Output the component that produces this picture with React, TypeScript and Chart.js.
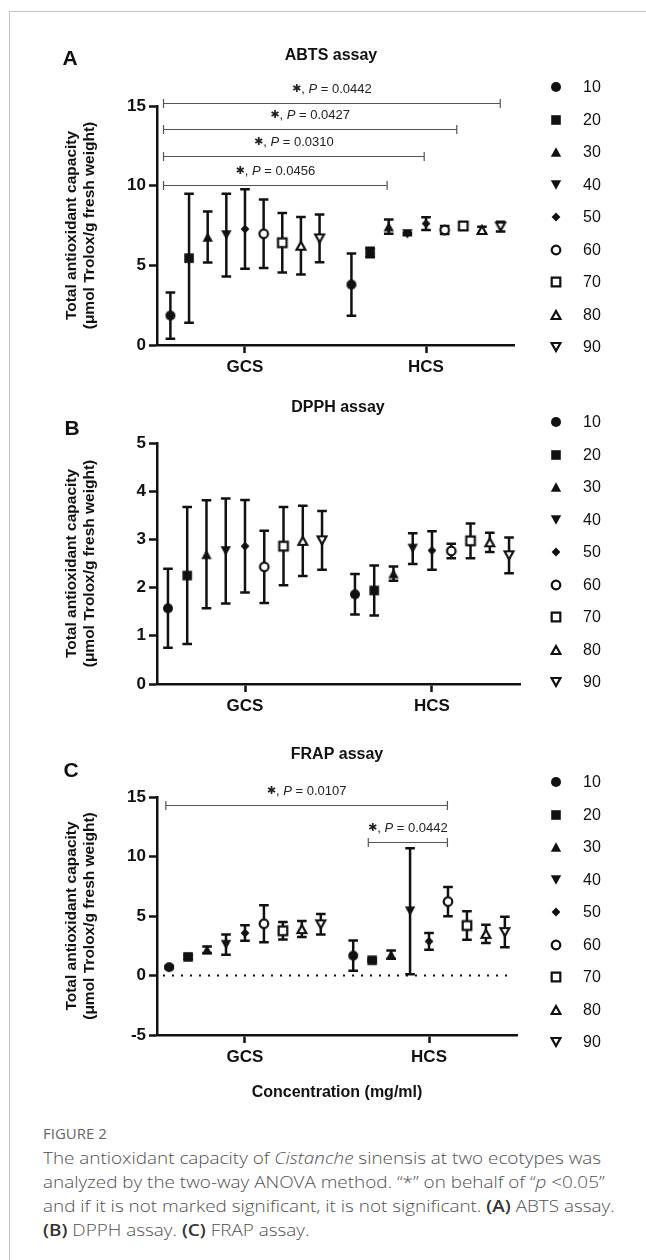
import React, { useEffect, useRef } from 'react';
import { Chart, registerables } from 'chart.js';

Chart.register(...registerables);

// ---------- data ----------
const groups = ['GCS', 'HCS'];
const concentrations = ['10', '20', '30', '40', '50', '60', '70', '80', '90'];

const abtsGcsMean = [1.85, 5.45, 6.78, 6.9, 7.28, 6.98, 6.42, 6.23, 6.69];
const abtsGcsSd = [1.45, 4.05, 1.6, 2.6, 2.5, 2.15, 1.87, 1.8, 1.5];
const abtsHcsMean = [3.79, 5.8, 7.43, 6.97, 7.62, 7.22, 7.47, 7.22, 7.43];
const abtsHcsSd = [1.95, 0.3, 0.45, 0.08, 0.4, 0.25, 0.2, 0.2, 0.3];

const dpphGcsMean = [1.57, 2.25, 2.69, 2.76, 2.86, 2.43, 2.86, 2.97, 2.98];
const dpphGcsSd = [0.82, 1.42, 1.12, 1.09, 0.96, 0.75, 0.81, 0.73, 0.61];
const dpphHcsMean = [1.86, 1.94, 2.29, 2.81, 2.77, 2.76, 2.97, 2.94, 2.67];
const dpphHcsSd = [0.42, 0.52, 0.15, 0.32, 0.4, 0.15, 0.36, 0.2, 0.37];

const frapGcsMean = [0.7, 1.56, 2.17, 2.59, 3.57, 4.35, 3.76, 3.9, 4.3];
const frapGcsSd = [0.1, 0.15, 0.27, 0.85, 0.66, 1.55, 0.73, 0.67, 0.86];
const frapHcsMean = [1.67, 1.28, 1.75, 5.4, 2.87, 6.21, 4.2, 3.5, 3.65];
const frapHcsSd = [1.27, 0.1, 0.35, 5.3, 0.7, 1.23, 1.19, 0.77, 1.28];

const abtsTicks = [0, 15, 5];
const dpphTicks = [0, 5, 1];
const frapTicks = [-5, 15, 5];

const abtsBracketFrom = [-0.45, -0.45, -0.45, -0.45];
const abtsBracketTo = [1.41, 1.17, 0.99, 0.785];
const abtsBracketY = [15.2, 13.58, 11.86, 10.04];
const abtsBracketP = ['0.0442', '0.0427', '0.0310', '0.0456'];

const frapBracketFrom = [-0.43, 0.67];
const frapBracketTo = [1.1, 1.1];
const frapBracketY = [14.35, 11.2];
const frapBracketP = ['0.0107', '0.0442'];

const yTitle = ['Total antioxidant capacity', '(μmol Trolox/g fresh weight)'];
const xTitle = 'Concentration (mg/ml)';

// ---------- styles ----------
const FONT = '"Liberation Sans", Arial, Helvetica, sans-serif';
const INK = '#111111';
const STEP = 0.103;

function drawMarker(ctx: CanvasRenderingContext2D, i: number, cx: number, cy: number) {
  ctx.save();
  ctx.fillStyle = INK;
  ctx.strokeStyle = INK;
  ctx.lineWidth = 2.2;
  ctx.lineJoin = 'miter';
  ctx.miterLimit = 4;
  const open = i >= 5;
  const k = i >= 5 ? i - 5 : i;
  ctx.beginPath();
  if (i === 4) {
    ctx.moveTo(cx, cy - 4.6);
    ctx.lineTo(cx + 4.4, cy);
    ctx.lineTo(cx, cy + 4.6);
    ctx.lineTo(cx - 4.4, cy);
    ctx.closePath();
  } else if (k === 0) {
    ctx.arc(cx, cy, open ? 4.3 : 5.0, 0, Math.PI * 2);
  } else if (k === 1) {
    const h = open ? 4.3 : 4.8;
    ctx.rect(cx - h, cy - h, h * 2, h * 2);
  } else if (k === 2) {
    const w = open ? 4.4 : 5.2;
    const h = open ? 4.0 : 4.8;
    ctx.moveTo(cx, cy - h);
    ctx.lineTo(cx + w, cy + h);
    ctx.lineTo(cx - w, cy + h);
    ctx.closePath();
  } else {
    const w = open ? 4.4 : 5.2;
    const h = open ? 4.0 : 4.8;
    ctx.moveTo(cx - w, cy - h);
    ctx.lineTo(cx + w, cy - h);
    ctx.lineTo(cx, cy + h);
    ctx.closePath();
  }
  if (open) {
    ctx.fillStyle = '#ffffff';
    ctx.fill();
    ctx.stroke();
  } else {
    ctx.fill();
  }
  ctx.restore();
}

function makeMarker(i: number): HTMLCanvasElement {
  const c = document.createElement('canvas');
  c.width = 16;
  c.height = 16;
  const ctx = c.getContext('2d')!;
  drawMarker(ctx, i, 8, 8);
  return c;
}

type Panel = {
  letter: string;
  title: string;
  gcsMean: number[];
  gcsSd: number[];
  hcsMean: number[];
  hcsSd: number[];
  ticks: number[];
  bracketFrom: number[];
  bracketTo: number[];
  bracketY: number[];
  bracketP: string[];
  zeroLine: boolean;
  showXTitle: boolean;
  top: number;
  height: number;
  padding: { left: number; right: number; top: number; bottom: number };
  yWidth: number;
  xHeight: number;
  xRange: [number, number];
  titlePos: [number, number];
  letterPos: [number, number];
  legendTop: number;
};

const panels: Panel[] = [
  {
    letter: 'A',
    title: 'ABTS assay',
    gcsMean: abtsGcsMean,
    gcsSd: abtsGcsSd,
    hcsMean: abtsHcsMean,
    hcsSd: abtsHcsSd,
    ticks: abtsTicks,
    bracketFrom: abtsBracketFrom,
    bracketTo: abtsBracketTo,
    bracketY: abtsBracketY,
    bracketP: abtsBracketP,
    zeroLine: false,
    showXTitle: false,
    top: 0,
    height: 390,
    padding: { left: 48, right: 132, top: 106, bottom: 5 },
    yWidth: 109,
    xHeight: 40,
    xRange: [-0.486, 1.486],
    titlePos: [331, 56],
    letterPos: [70, 59],
    legendTop: 87,
  },
  {
    letter: 'B',
    title: 'DPPH assay',
    gcsMean: dpphGcsMean,
    gcsSd: dpphGcsSd,
    hcsMean: dpphHcsMean,
    hcsSd: dpphHcsSd,
    ticks: dpphTicks,
    bracketFrom: [],
    bracketTo: [],
    bracketY: [],
    bracketP: [],
    zeroLine: false,
    showXTitle: false,
    top: 390,
    height: 330,
    padding: { left: 48, right: 126, top: 53, bottom: 4 },
    yWidth: 109,
    xHeight: 32,
    xRange: [-0.4706, 1.4706],
    titlePos: [338, 18],
    letterPos: [72, 39],
    legendTop: 32,
  },
  {
    letter: 'C',
    title: 'FRAP assay',
    gcsMean: frapGcsMean,
    gcsSd: frapGcsSd,
    hcsMean: frapHcsMean,
    hcsSd: frapHcsSd,
    ticks: frapTicks,
    bracketFrom: frapBracketFrom,
    bracketTo: frapBracketTo,
    bracketY: frapBracketY,
    bracketP: frapBracketP,
    zeroLine: true,
    showXTitle: true,
    top: 720,
    height: 390,
    padding: { left: 48, right: 129, top: 77, bottom: 5 },
    yWidth: 109,
    xHeight: 70,
    xRange: [-0.478, 1.478],
    titlePos: [337, 35],
    letterPos: [71, 51],
    legendTop: 62,
  },
];

function buildConfig(p: Panel, markers: HTMLCanvasElement[]): any {
  const means = [p.gcsMean, p.hcsMean];
  const sds = [p.gcsSd, p.hcsSd];
  const datasets = concentrations.map((c, s) => ({
    label: c,
    data: groups.map((g, gi) => ({
      x: gi + (s - 4) * STEP,
      y: means[gi][s],
      sd: sds[gi][s],
    })),
    pointStyle: markers[s],
    pointRadius: 5,
    pointHoverRadius: 5,
    showLine: false,
  }));

  const panelPlugin = {
    id: 'panelDeco' + p.letter,
    beforeDatasetsDraw(chart: any) {
      const ctx = chart.ctx;
      const ys = chart.scales.y;
      const area = chart.chartArea;
      ctx.save();
      if (p.zeroLine) {
        const y0 = ys.getPixelForValue(0);
        ctx.strokeStyle = INK;
        ctx.lineWidth = 2;
        ctx.setLineDash([2, 7]);
        ctx.beginPath();
        ctx.moveTo(area.left + 6, y0);
        ctx.lineTo(area.right - 4, y0);
        ctx.stroke();
        ctx.setLineDash([]);
      }
      ctx.strokeStyle = INK;
      ctx.lineWidth = 2.5;
      chart.data.datasets.forEach((ds: any, di: number) => {
        const meta = chart.getDatasetMeta(di);
        meta.data.forEach((el: any, j: number) => {
          const raw = ds.data[j];
          const t = ys.getPixelForValue(raw.y + raw.sd);
          const b = ys.getPixelForValue(raw.y - raw.sd);
          const x = el.x;
          ctx.beginPath();
          ctx.moveTo(x, t);
          ctx.lineTo(x, b);
          ctx.moveTo(x - 4.8, t);
          ctx.lineTo(x + 4.8, t);
          ctx.moveTo(x - 4.8, b);
          ctx.lineTo(x + 4.8, b);
          ctx.stroke();
        });
      });
      ctx.restore();
    },
    afterDraw(chart: any) {
      const ctx = chart.ctx;
      const xs = chart.scales.x;
      const ys = chart.scales.y;
      ctx.save();
      // significance brackets
      p.bracketY.forEach((yv, i) => {
        const x1 = xs.getPixelForValue(p.bracketFrom[i]);
        const x2 = xs.getPixelForValue(p.bracketTo[i]);
        const y = Math.round(ys.getPixelForValue(yv)) + 0.5;
        ctx.strokeStyle = '#555';
        ctx.lineWidth = 1.2;
        ctx.beginPath();
        ctx.moveTo(x1, y);
        ctx.lineTo(x2, y);
        ctx.moveTo(x1, y - 4.5);
        ctx.lineTo(x1, y + 4.5);
        ctx.moveTo(x2, y - 4.5);
        ctx.lineTo(x2, y + 4.5);
        ctx.stroke();
        const parts = [
          { t: '✱', f: 'bold 11px "DejaVu Sans", sans-serif' },
          { t: ', ', f: '13px ' + FONT },
          { t: 'P', f: 'italic 13px ' + FONT },
          { t: ' = ' + p.bracketP[i], f: '13px ' + FONT },
        ];
        let total = 0;
        parts.forEach((pt) => {
          ctx.font = pt.f;
          total += ctx.measureText(pt.t).width;
        });
        let tx = (x1 + x2) / 2 - total / 2;
        ctx.fillStyle = '#222';
        ctx.textBaseline = 'middle';
        ctx.textAlign = 'left';
        parts.forEach((pt) => {
          ctx.font = pt.f;
          ctx.fillText(pt.t, tx, y - 14);
          tx += ctx.measureText(pt.t).width;
        });
      });
      // title and panel letter
      ctx.fillStyle = INK;
      ctx.textAlign = 'center';
      ctx.textBaseline = 'middle';
      ctx.font = 'bold 16px ' + FONT;
      ctx.fillText(p.title, p.titlePos[0], p.titlePos[1]);
      ctx.font = 'bold 21px ' + FONT;
      ctx.fillText(p.letter, p.letterPos[0], p.letterPos[1]);
      // legend
      ctx.textAlign = 'left';
      ctx.font = '16px ' + FONT;
      chart.data.datasets.forEach((ds: any, i: number) => {
        const ly = p.legendTop + i * 32.5;
        ctx.drawImage(markers[i], 556 - 8, Math.round(ly) - 8);
        ctx.fillStyle = INK;
        ctx.fillText(ds.label, 583, ly + 1);
      });
      ctx.restore();
    },
  };

  return {
    type: 'scatter',
    data: { datasets },
    options: {
      animation: false,
      responsive: false,
      maintainAspectRatio: false,
      events: [],
      layout: { padding: p.padding },
      plugins: {
        legend: { display: false },
        tooltip: { enabled: false },
        title: { display: false },
      },
      scales: {
        x: {
          type: 'linear',
          min: p.xRange[0],
          max: p.xRange[1],
          bounds: 'data',
          afterBuildTicks: (scale: any) => {
            scale.ticks = groups.map((g, i) => ({ value: i }));
          },
          afterFit: (scale: any) => {
            scale.height = p.xHeight;
          },
          ticks: {
            autoSkip: false,
            maxRotation: 0,
            padding: 4,
            color: INK,
            font: { family: FONT, size: 17, weight: 'bold' },
            callback: (v: number) => groups[Math.round(v)],
          },
          grid: {
            drawOnChartArea: false,
            drawTicks: true,
            tickLength: 8,
            tickWidth: 2.5,
            tickColor: INK,
          },
          border: { display: true, color: INK, width: 2.5 },
          title: {
            display: p.showXTitle,
            text: xTitle,
            color: INK,
            font: { family: FONT, size: 16, weight: 'bold', lineHeight: 1.2 },
            padding: { top: 0, bottom: 2.5 },
          },
        },
        y: {
          type: 'linear',
          min: p.ticks[0],
          max: p.ticks[1],
          afterFit: (scale: any) => {
            scale.width = p.yWidth;
          },
          ticks: {
            stepSize: p.ticks[2],
            padding: 3,
            color: INK,
            font: { family: FONT, size: 17, weight: 'bold' },
          },
          grid: {
            drawOnChartArea: false,
            drawTicks: true,
            tickLength: 8,
            tickWidth: 2.5,
            tickColor: INK,
          },
          border: { display: true, color: INK, width: 2.5 },
          title: {
            display: true,
            text: yTitle,
            color: INK,
            font: { family: FONT, size: 15.5, weight: 'bold', lineHeight: 1.16 },
            padding: { top: 15, bottom: 0 },
          },
        },
      },
    },
    plugins: [panelPlugin],
  };
}

function PanelChart({ panel }: { panel: Panel }) {
  const ref = useRef<HTMLCanvasElement>(null);
  useEffect(() => {
    const markers = concentrations.map((c, i) => makeMarker(i));
    const chart = new Chart(ref.current as HTMLCanvasElement, buildConfig(panel, markers));
    return () => chart.destroy();
  }, [panel]);
  return (
    <canvas
      ref={ref}
      width={646}
      height={panel.height}
      style={{ position: 'absolute', left: 0, top: panel.top, width: 646, height: panel.height }}
    />
  );
}

const CAPTION_FONT = '"Open Sans", Lato, "Noto Sans", sans-serif';

export default function App() {
  return (
    <div
      style={{
        position: 'absolute',
        left: 0,
        top: 0,
        width: 646,
        height: 1260,
        overflow: 'hidden',
        background: '#ffffff',
      }}
    >
      <div
        style={{
          position: 'absolute',
          left: 9,
          top: 11,
          width: 700,
          height: 1300,
          borderLeft: '1px solid #c4c4c4',
          borderTop: '1px solid #c4c4c4',
        }}
      />
      {panels.map((p) => (
        <PanelChart key={p.letter} panel={p} />
      ))}
      <div
        style={{
          position: 'absolute',
          left: 43,
          top: 1124,
          fontFamily: CAPTION_FONT,
          fontSize: 14,
          color: '#666',
          whiteSpace: 'nowrap',
          transform: 'scaleX(1.07)',
          transformOrigin: '0 0',
        }}
      >
        FIGURE 2
      </div>
      <div
        style={{
          position: 'absolute',
          left: 43,
          top: 1146,
          fontFamily: CAPTION_FONT,
          fontSize: 16,
          fontWeight: 300,
          lineHeight: '24px',
          color: '#505050',
          whiteSpace: 'nowrap',
          transform: 'scaleX(1.18)',
          transformOrigin: '0 0',
        }}
      >
        <div>
          The antioxidant capacity of <i>Cistanche</i> sinensis at two ecotypes was
        </div>
        <div>
          analyzed by the two-way ANOVA method. “*” on behalf of “<i>p</i> &lt;0.05”
        </div>
        <div>
          and if it is not marked significant, it is not significant.{' '}
          <b style={{ color: '#333', fontWeight: 600 }}>(A)</b> ABTS assay.
        </div>
        <div>
          <b style={{ color: '#333', fontWeight: 600 }}>(B)</b> DPPH assay.{' '}
          <b style={{ color: '#333', fontWeight: 600 }}>(C)</b> FRAP assay.
        </div>
      </div>
    </div>
  );
}
